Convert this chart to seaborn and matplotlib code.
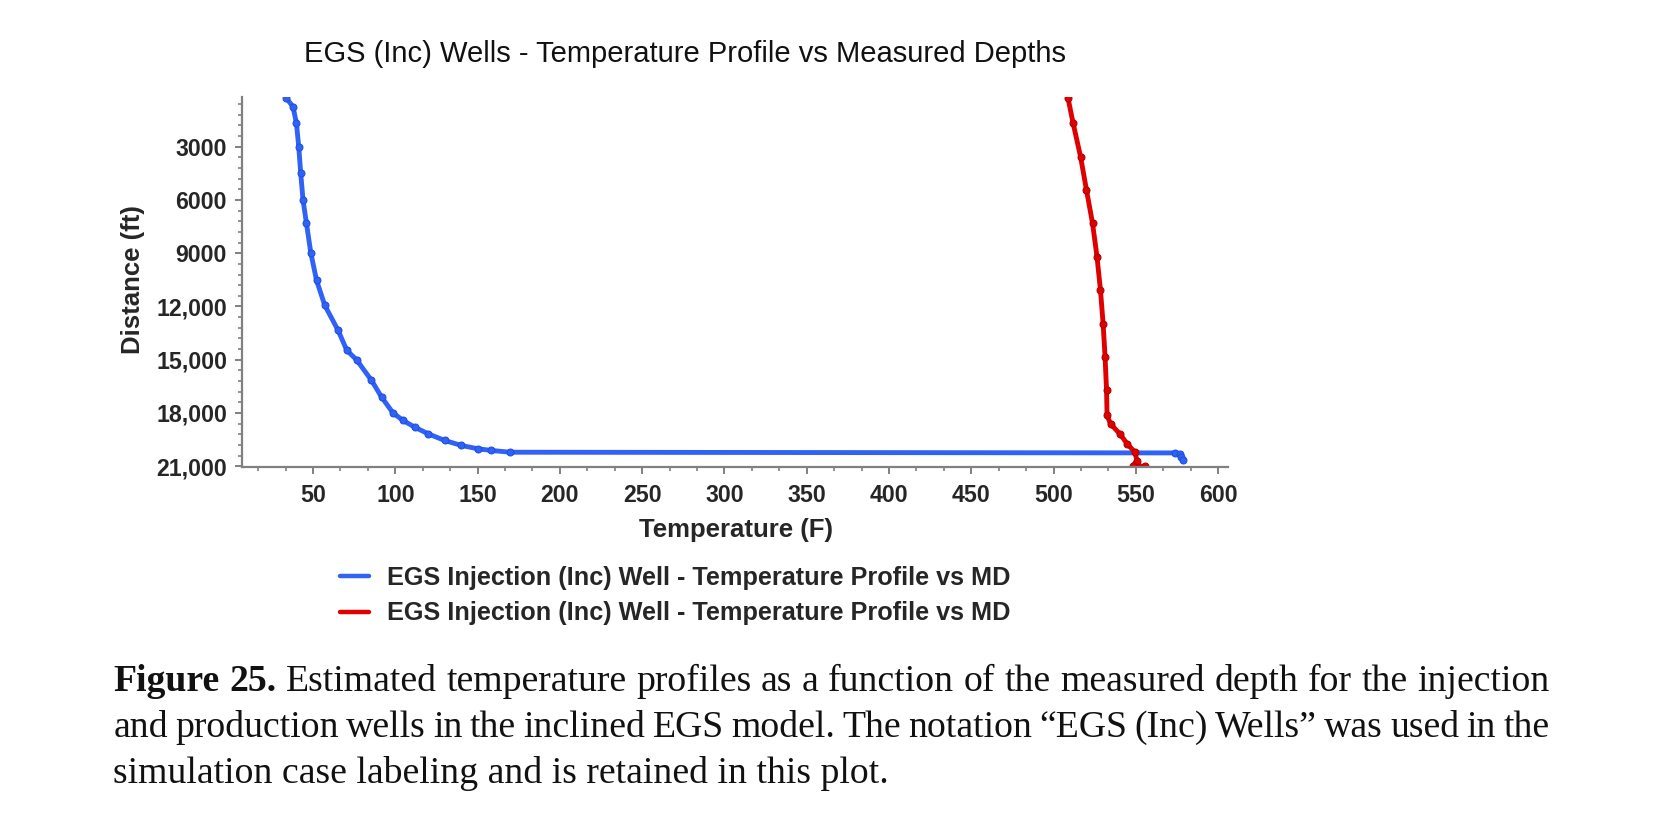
import seaborn as sns
import pandas as pd
from matplotlib import pyplot as plt
from matplotlib.lines import Line2D
from matplotlib.ticker import MultipleLocator

#-------------------------- Data ------------------------
# injection well (blue)
inj_temp = [33.8, 37.8, 39.9, 41.3, 42.5, 43.9, 46.0, 48.6, 52.1, 57.1, 65.2, 70.5,
            76.4, 85.5, 91.6, 98.6, 104.7, 111.8, 119.9, 130.0, 140.2, 150.3, 158.4,
            169.5, 573.7, 576.7, 577.7, 578.7]
inj_depth = [270, 740, 1680, 3000, 4500, 6000, 7320, 8960, 10520, 11930, 13340, 14470,
             15000, 16160, 17100, 18000, 18420, 18800, 19170, 19550, 19830, 20020, 20110,
             20210, 20250, 20300, 20490, 20640]

# production well (red)
prod_temp = [508.8, 511.9, 516.4, 520.0, 523.7, 526.4, 528.5, 530.1, 531.3, 532.2,
             532.5, 534.6, 540.2, 544.7, 549.4, 550.7, 548.3, 555.4]
prod_depth = [270, 1680, 3560, 5440, 7320, 9200, 11080, 12960, 14850, 16730,
              18140, 18610, 19170, 19730, 20210, 20680, 20960, 21010]

legend_labels = ['EGS Injection (Inc) Well - Temperature Profile vs MD',
                 'EGS Injection (Inc) Well - Temperature Profile vs MD']

x_ticks = [50, 100, 150, 200, 250, 300, 350, 400, 450, 500, 550, 600]
y_ticks = [3000, 6000, 9000, 12000, 15000, 18000, 21000]
y_tick_labels = ['3000', '6000', '9000', '12,000', '15,000', '18,000', '21,000']

title = 'EGS (Inc) Wells - Temperature Profile vs Measured Depths'
caption_head = 'Figure 25.'
caption_lines = ['Estimated temperature profiles as a function of the measured depth for the injection',
                 'and production wells in the inclined EGS model. The notation \u201cEGS (Inc) Wells\u201d was used in the',
                 'simulation case labeling and is retained in this plot.']

#-------------------------- Style ---------------------------------------------
sns.set_style('white')
plt.rcParams['font.family'] = ['Liberation Sans', 'DejaVu Sans']

blue = '#2f62f5'
red = '#e00000'
grey = '#808080'
W, H = 1678, 816

inj_df = pd.DataFrame({'temp': inj_temp, 'depth': inj_depth})
prod_df = pd.DataFrame({'temp': prod_temp, 'depth': prod_depth})

#-------------------------- Plot ----------------------------------------------
fig = plt.figure(figsize=(W / 100, H / 100), dpi=100)
ax = fig.add_axes([242.3 / W, 1 - 467.3 / H, (1228 - 242.3) / W, (467.3 - 96.7) / H])

sns.lineplot(data=inj_df, x='temp', y='depth', sort=False, estimator=None, color=blue,
             linewidth=3.5, marker='o', markersize=5, markeredgecolor='#1d4fe0', ax=ax)
sns.lineplot(data=prod_df, x='temp', y='depth', sort=False, estimator=None, color=red,
             linewidth=3.5, marker='o', markersize=5, markeredgecolor='#b00000', ax=ax)

ax.set_xlim(7, 606)
ax.set_ylim(21060, 180)

ax.set_xticks(x_ticks)
ax.set_xticklabels([str(t) for t in x_ticks], fontweight='bold')
ax.set_yticks(y_ticks)
ax.set_yticklabels(y_tick_labels, fontweight='bold')
ax.xaxis.set_minor_locator(MultipleLocator(50 / 3))
ax.yaxis.set_minor_locator(MultipleLocator(600))
ax.tick_params(which='major', length=5, width=1.4, color=grey, labelsize=16.7, direction='out')
ax.tick_params(axis='x', which='major', pad=7)
ax.tick_params(axis='y', which='major', pad=6)
ax.tick_params(which='minor', length=2.8, width=1.2, color=grey, direction='out')
ax.tick_params(left=True, bottom=True, which='both')

sns.despine(ax=ax)
for side in ['left', 'bottom']:
    ax.spines[side].set_color(grey)
    ax.spines[side].set_linewidth(1.6)

ax.set_xlabel('Temperature (F)', fontsize=18.5, fontweight='bold')
ax.set_ylabel('Distance (ft)', fontsize=18.5, fontweight='bold')
ax.xaxis.set_label_coords(0.5006, -0.17)
ax.xaxis.label.set_va('center')
ax.yaxis.set_label_coords(-0.1109, 0.506)
ax.yaxis.label.set_va('center')

fig.text(685.4 / W, 1 - 54.5 / H, title, ha='center', va='center', fontsize=21, color='#111111')

handles = [Line2D([], [], color=blue, linewidth=3.2), Line2D([], [], color=red, linewidth=3.2)]
fig.legend(handles, legend_labels, loc='upper left', bbox_to_anchor=(340 / W, 1 - 566 / H),
           frameon=False, borderaxespad=0, borderpad=0, handlelength=1.16, handletextpad=0.7,
           labelspacing=0.45, prop={'weight': 'bold', 'size': 18.2})

#-------------------------- Caption (justified lines) -------------------------
serif = ['Liberation Serif', 'DejaVu Serif']
cap_size = 27.2
cap_left, cap_right = 113.4, 1549.5
baselines = [691, 737, 783]
renderer = fig.canvas.get_renderer()


def put_words(words, weights, yb):
    texts = [fig.text(0, 1 - yb / H, w, family=serif, fontsize=cap_size, fontweight=wt,
                      va='baseline', color='#111111') for w, wt in zip(words, weights)]
    widths = [t.get_window_extent(renderer).width for t in texts]
    gap = (cap_right - cap_left - sum(widths)) / (len(words) - 1)
    x = cap_left
    for t, w in zip(texts, widths):
        t.set_x(x / W)
        x += w + gap


head_words = caption_head.split()
line1 = head_words + caption_lines[0].split()
put_words(line1, ['bold'] * len(head_words) + ['normal'] * (len(line1) - len(head_words)), baselines[0])
line2 = caption_lines[1].split()
put_words(line2, ['normal'] * len(line2), baselines[1])
fig.text(cap_left / W, 1 - baselines[2] / H, caption_lines[2], family=serif, fontsize=cap_size,
         va='baseline', color='#111111')

fig.savefig('out.png', dpi=100)
